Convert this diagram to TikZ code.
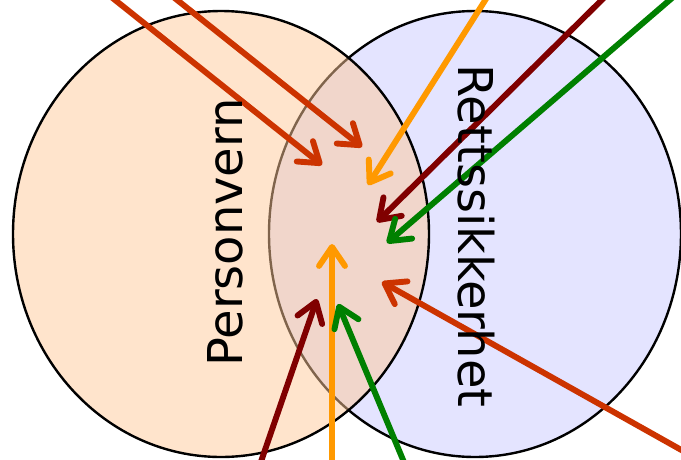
\documentclass[tikz,border=0pt]{standalone}
\usepackage{fontspec}
\setmainfont{DejaVu Sans}
\usetikzlibrary{arrows.meta}
\definecolor{cRedOr}{RGB}{204,51,0}
\definecolor{cOrange}{RGB}{255,153,0}
\definecolor{cDark}{RGB}{128,0,0}
\definecolor{cGreen}{RGB}{0,128,0}
\definecolor{cLav}{RGB}{228,228,255}
\definecolor{cPeach}{RGB}{255,201,153}
\tikzset{
  arr/.style={line width=5.9pt, line cap=round,
    -{Straight Barb[length=19pt,width=26pt,round]}},
  setborder/.style={draw=black, line width=2.4pt},
  label/.style={font=\fontsize{48}{58}\selectfont, inner sep=0pt, anchor=base}
}
\begin{document}
\begin{tikzpicture}[x=1pt,y=-1pt]
\useasboundingbox (0,0) rectangle (681,459);
\clip (0,0) rectangle (681,459);
% sets
\path[setborder, fill=cLav] (475,234) ellipse [x radius=206pt, y radius=223pt];
\path[setborder, fill=cPeach, fill opacity=0.5] (221,234) ellipse [x radius=208pt, y radius=223pt];
% coordinates
\coordinate (s1) at (90,-20);   \coordinate (t1) at (322,165);
\coordinate (s2) at (152,-20);  \coordinate (t2) at (362,147);
\coordinate (s3) at (498,-20);  \coordinate (t3) at (368,185);
\coordinate (s4) at (622,-20);  \coordinate (t4) at (377,222);
\coordinate (s5) at (693,-20);  \coordinate (t5) at (387,243);
\coordinate (s6) at (701,461);  \coordinate (t6) at (382,282);
\coordinate (s7) at (255,479);  \coordinate (t7) at (317,299);
\coordinate (s8) at (332,479);  \coordinate (t8) at (332,244);
\coordinate (s9) at (411,479);  \coordinate (t9) at (338,304);
% arrows
\draw[arr, cRedOr] (s1) -- (t1);
\draw[arr, cRedOr] (s2) -- (t2);
\draw[arr, cOrange] (s3) -- (t3);
\draw[arr, cDark] (s4) -- (t4);
\draw[arr, cGreen] (s5) -- (t5);
\draw[arr, cRedOr] (s6) -- (t6);
\draw[arr, cDark] (s7) -- (t7);
\draw[arr, cOrange] (s8) -- (t8);
\draw[arr, cGreen] (s9) -- (t9);
% labels
\node[label, rotate=90] (pv) at (242,232.5) {Personvern};
\node[label, rotate=-90] (rs) at (458,236) {Rettssikkerhet};
\end{tikzpicture}
\end{document}
